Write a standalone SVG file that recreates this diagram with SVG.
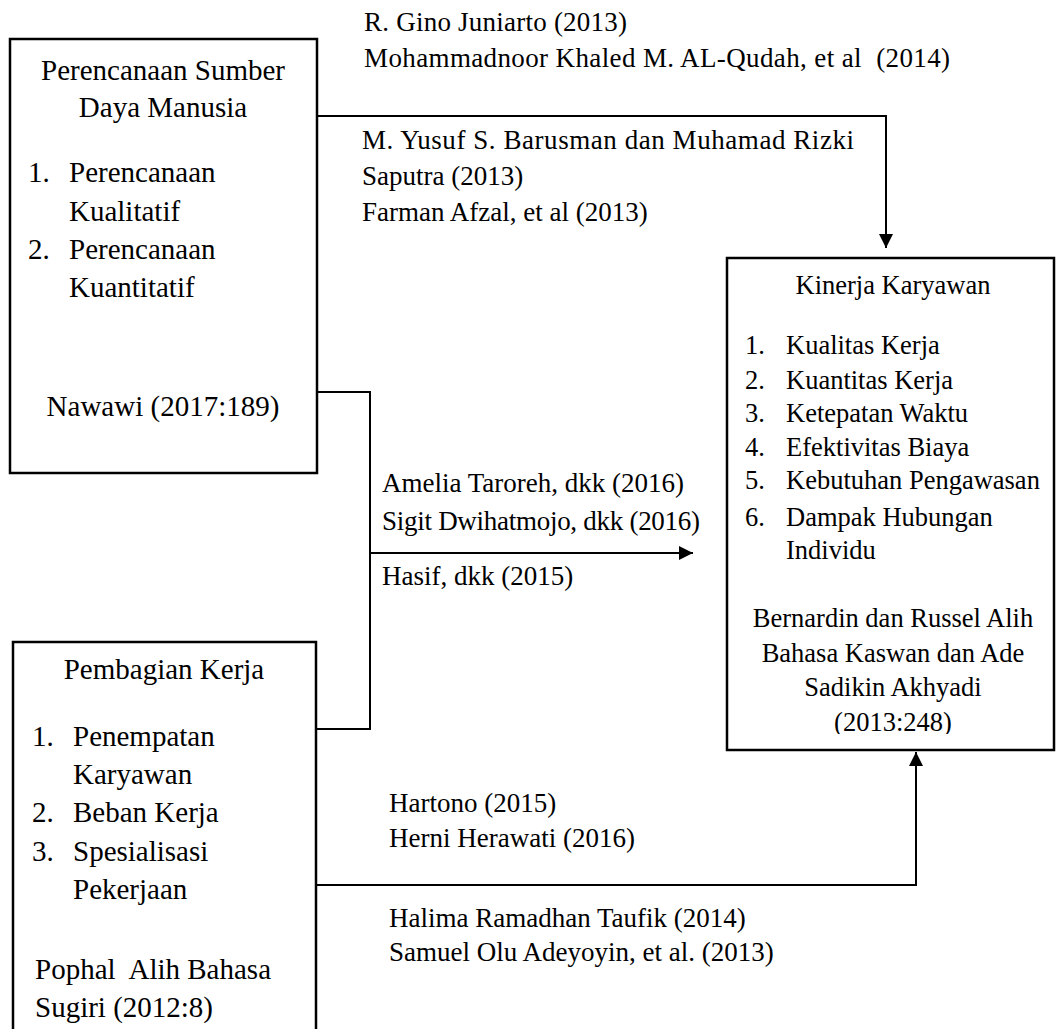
<svg xmlns="http://www.w3.org/2000/svg" width="1056" height="1029" viewBox="0 0 1056 1029">
<style>
text{font-family:"Liberation Serif","Times New Roman",serif;font-size:27px;fill:#000}
.c{text-anchor:middle}
.big text{font-size:29px}
.kin text{font-size:26.5px}
.box{fill:#fff;stroke:#000;stroke-width:2.5}
.ln{fill:none;stroke:#000;stroke-width:2}
</style>
<defs>
<marker id="ah" viewBox="0 0 14 14" refX="14" refY="7" markerWidth="14" markerHeight="14" markerUnits="userSpaceOnUse" orient="auto">
<path d="M0,0 L14,7 L0,14 Z" fill="#000"/>
</marker>
<clipPath id="kclip"><rect x="727" y="258" width="327" height="476"/></clipPath>
</defs>
<rect width="1056" height="1029" fill="#fff"/>
<g id="connectors">
<path class="ln" d="M317,116 H886 V248" marker-end="url(#ah)"/>
<path class="ln" d="M317,392 H370 V729 H316"/>
<path class="ln" d="M370,553 H693" marker-end="url(#ah)"/>
<path class="ln" d="M316,885 H916 V752" marker-end="url(#ah)"/>
</g>
<g id="labels">
<text x="364" y="31" textLength="263" lengthAdjust="spacing">R. Gino Juniarto (2013)</text>
<text x="364" y="67" xml:space="preserve" textLength="586" lengthAdjust="spacing">Mohammadnoor Khaled M. AL-Qudah, et al  (2014)</text>
<text x="362" y="149" textLength="492" lengthAdjust="spacing">M. Yusuf S. Barusman dan Muhamad Rizki</text>
<text x="362" y="185">Saputra (2013)</text>
<text x="362" y="221">Farman Afzal, et al (2013)</text>
<text x="382" y="492">Amelia Taroreh, dkk (2016)</text>
<text x="382" y="530" textLength="318" lengthAdjust="spacing">Sigit Dwihatmojo, dkk (2016)</text>
<text x="382" y="585">Hasif, dkk (2015)</text>
<text x="389" y="812">Hartono (2015)</text>
<text x="389" y="847">Herni Herawati (2016)</text>
<text x="389" y="927">Halima Ramadhan Taufik (2014)</text>
<text x="389" y="961">Samuel Olu Adeyoyin, et al. (2013)</text>
</g>
<g id="node-sdm" class="big">
<rect class="box" x="10" y="39" width="307" height="434"/>
<text class="c" x="163" y="80">Perencanaan Sumber</text>
<text class="c" x="163" y="117">Daya Manusia</text>
<text x="28" y="182">1.</text><text x="69" y="182">Perencanaan</text>
<text x="69" y="221">Kualitatif</text>
<text x="28" y="259">2.</text><text x="69" y="259">Perencanaan</text>
<text x="69" y="297">Kuantitatif</text>
<text class="c" x="163" y="416">Nawawi (2017:189)</text>
</g>
<g id="node-pembagian" class="big">
<rect class="box" x="13" y="642" width="303" height="400"/>
<text class="c" x="164" y="679">Pembagian Kerja</text>
<text x="32" y="746">1.</text><text x="73" y="746">Penempatan</text>
<text x="73" y="784">Karyawan</text>
<text x="32" y="822">2.</text><text x="73" y="822">Beban Kerja</text>
<text x="32" y="861">3.</text><text x="73" y="861">Spesialisasi</text>
<text x="73" y="899">Pekerjaan</text>
<text x="35" y="979" xml:space="preserve">Pophal  Alih Bahasa</text>
<text x="35" y="1017">Sugiri (2012:8)</text>
</g>
<g id="node-kinerja" class="kin">
<rect class="box" x="727" y="258" width="327" height="492"/>
<text class="c" x="893" y="294">Kinerja Karyawan</text>
<text x="745" y="354">1.</text><text x="786" y="354">Kualitas Kerja</text>
<text x="745" y="389">2.</text><text x="786" y="389">Kuantitas Kerja</text>
<text x="745" y="422">3.</text><text x="786" y="422">Ketepatan Waktu</text>
<text x="745" y="456">4.</text><text x="786" y="456">Efektivitas Biaya</text>
<text x="745" y="489">5.</text><text x="786" y="489">Kebutuhan Pengawasan</text>
<text x="745" y="526">6.</text><text x="786" y="526">Dampak Hubungan</text>
<text x="786" y="559">Individu</text>
<text class="c" x="893" y="627">Bernardin dan Russel Alih</text>
<text class="c" x="893" y="662">Bahasa Kaswan dan Ade</text>
<text class="c" x="893" y="696">Sadikin Akhyadi</text>
<text class="c" x="893" y="731" clip-path="url(#kclip)">(2013:248)</text>
</g>
</svg>
